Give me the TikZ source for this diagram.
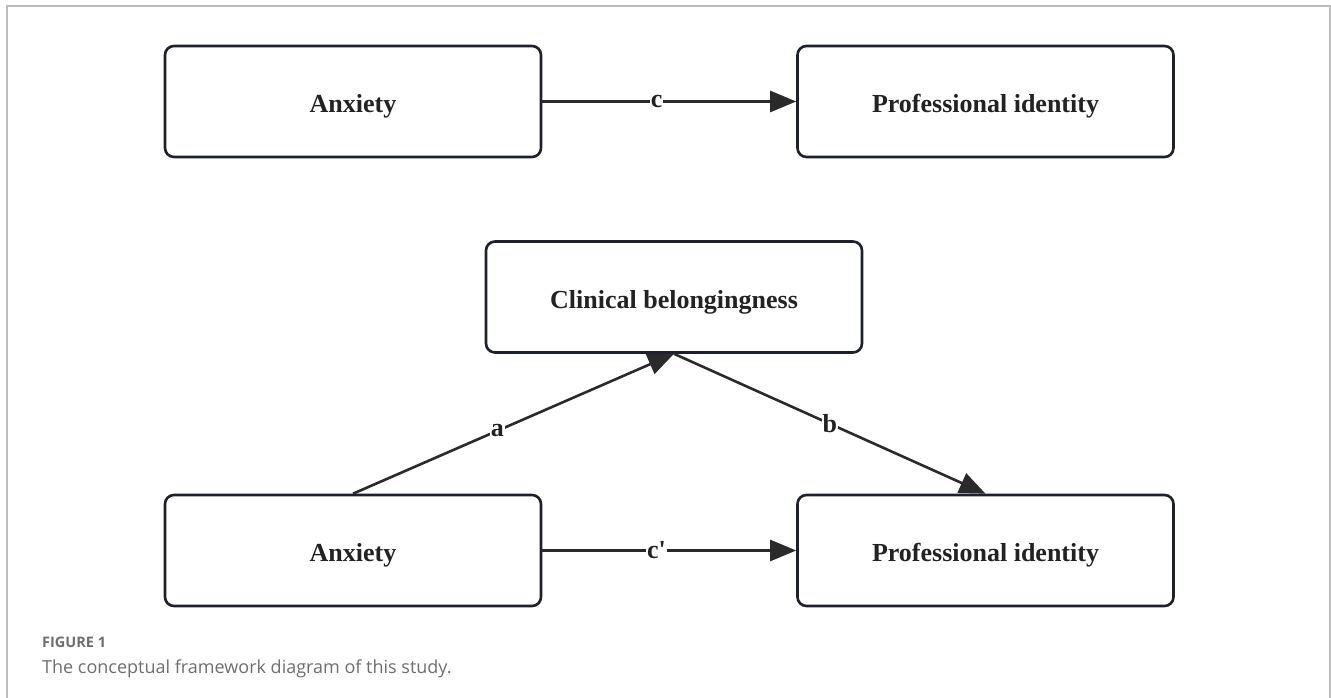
\documentclass[tikz,border=0pt]{standalone}
\usepackage{fontspec}
\setmainfont{Liberation Serif}
\newfontfamily\capfont{Open Sans}
\usetikzlibrary{arrows.meta}
\definecolor{boxline}{HTML}{1C212B}
\definecolor{arrowc}{HTML}{2A2A2A}
\definecolor{txt}{HTML}{222222}
\definecolor{framec}{HTML}{BDBDBD}
\definecolor{capc}{HTML}{6E6E6E}
\tikzset{
  varbox/.style={draw=boxline, line width=2.6pt, rounded corners=9pt, fill=white,
    minimum width=376pt, minimum height=111pt, inner sep=0pt, text height=22pt, text depth=0pt,
    font=\fontsize{26}{30}\selectfont\bfseries, text=txt},
  link/.style={draw=arrowc, line width=2.6pt, -{Triangle[length=26pt,width=21pt]}},
  lab/.style={fill=white, inner sep=1pt, font=\fontsize{26}{28}\selectfont\bfseries, text=txt},
}
\begin{document}
\begin{tikzpicture}[x=1pt,y=-1pt]
\useasboundingbox (0,0) rectangle (1331,698);
\draw[framec, line width=1.3pt] (7,698) -- (7,6) -- (1330,6) -- (1330,698);
\node[varbox] (anx1) at (353,101.5) {Anxiety};
\node[varbox] (pi1) at (985.5,101.5) {Professional identity};
\node[varbox] (clin) at (674,297) {Clinical belongingness};
\node[varbox] (anx2) at (353,550.5) {Anxiety};
\node[varbox] (pi2) at (985.5,550.5) {Professional identity};
\draw[link] (anx1.east) -- node[lab, pos=0.45] {c} (pi1.west);
\draw[link] (anx2.east) -- node[lab, pos=0.45] {c\textquotesingle} (pi2.west);
\draw[link] (anx2.north) -- node[lab, pos=0.45] {a} (clin.south);
\draw[link] (clin.south) -- node[lab] {b} (pi2.north);
\node[anchor=base west, inner sep=0pt, text=capc, font=\capfont\fontsize{14.5}{17}\selectfont\bfseries] (figlab) at (42,647) {FIGURE 1};
\node[anchor=base west, inner sep=0pt, text=capc, font=\capfont\fontsize{18}{21}\selectfont] (cap) at (42,673) {The conceptual framework diagram of this study.};
\end{tikzpicture}
\end{document}
